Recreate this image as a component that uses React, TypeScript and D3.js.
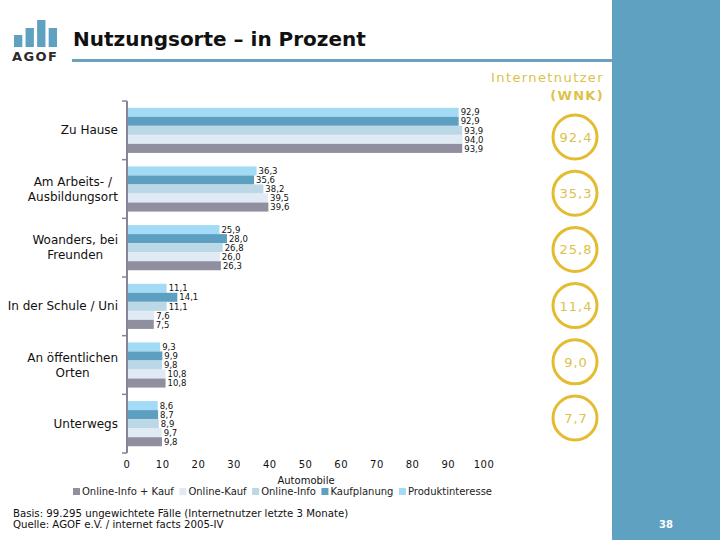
import React, { useEffect, useRef } from 'react';
import * as d3 from 'd3';

const categories = [
  'Zu Hause',
  'Am Arbeits- /\nAusbildungsort',
  'Woanders, bei\nFreunden',
  'In der Schule / Uni',
  'An öffentlichen\nOrten',
  'Unterwegs',
];

// bar order top -> bottom inside each category
const seriesNames = ['Produktinteresse', 'Kaufplanung', 'Online-Info', 'Online-Kauf', 'Online-Info + Kauf'];
const produktinteresse = [92.9, 36.3, 25.9, 11.1, 9.3, 8.6];
const kaufplanung = [92.9, 35.6, 28.0, 14.1, 9.9, 8.7];
const onlineInfo = [93.9, 38.2, 26.8, 11.1, 9.8, 8.9];
const onlineKauf = [94.0, 39.5, 26.0, 7.6, 10.8, 9.7];
const onlineInfoKauf = [93.9, 39.6, 26.3, 7.5, 10.8, 9.8];
const seriesValues = [produktinteresse, kaufplanung, onlineInfo, onlineKauf, onlineInfoKauf];
const seriesColors = ['#a3dbf6', '#5c9fc0', '#bcd7e5', '#dfeaf4', '#8f8fa0'];

// legend order (left -> right)
const legendOrder = ['Online-Info + Kauf', 'Online-Kauf', 'Online-Info', 'Kaufplanung', 'Produktinteresse'];

const internetnutzer = [92.4, 35.3, 25.8, 11.4, 9.0, 7.7];
const xTicks = [0, 10, 20, 30, 40, 50, 60, 70, 80, 90, 100];

const title = 'Nutzungsorte – in Prozent';
const axisTitle = 'Automobile';
const footer = [
  'Basis: 99.295 ungewichtete Fälle (Internetnutzer letzte 3 Monate)',
  'Quelle: AGOF e.V. / internet facts 2005-IV',
];
const logoBars = [12, 19, 27, 19];

const FONT = "'DejaVu Sans', Verdana, sans-serif";
const BLUE = '#5ea1c0';
const GOLD = '#e4bc32';
const GOLD_TEXT = '#dcc14a';

const de = d3.formatLocale({ decimal: ',', thousands: '.', grouping: [3], currency: ['', '€'] });
const fmt = de.format('.1f');

export default function App() {
  const ref = useRef<SVGSVGElement>(null);

  useEffect(() => {
    const svg = d3.select(ref.current);
    svg.selectAll('*').remove();

    // background
    svg.append('rect').attr('width', 720).attr('height', 540).attr('fill', '#fff');
    // right panel
    svg.append('rect').attr('x', 612).attr('y', 0).attr('width', 108).attr('height', 540).attr('fill', BLUE);
    // title underline
    svg.append('rect').attr('x', 72).attr('y', 59).attr('width', 540).attr('height', 3).attr('fill', '#6aa3bd');

    // logo
    const lx = d3.scaleBand<number>().domain(d3.range(logoBars.length)).range([14, 57]).paddingInner(0.28);
    const ly = d3.scaleLinear().domain([0, 27]).range([47, 20]);
    svg.append('g').selectAll('rect').data(logoBars).join('rect')
      .attr('x', (_, i) => lx(i)!)
      .attr('width', lx.bandwidth())
      .attr('y', d => ly(d))
      .attr('height', d => 47 - ly(d))
      .attr('fill', BLUE);
    svg.append('text').attr('x', 12).attr('y', 61).text('AGOF')
      .attr('font-family', FONT).attr('font-weight', 'bold').attr('font-size', 13)
      .attr('letter-spacing', 1.4).attr('fill', '#2b2b2b');

    // title
    svg.append('text').attr('x', 73).attr('y', 46).text(title)
      .attr('font-family', FONT).attr('font-weight', 'bold').attr('font-size', 20).attr('fill', '#111');

    // scales
    const x = d3.scaleLinear().domain([0, 100]).range([127, 484]);
    const y = d3.scaleBand<number>().domain(d3.range(categories.length)).range([101, 453])
      .paddingInner(0.23).paddingOuter(0.115);
    const yi = d3.scaleBand<number>().domain(d3.range(seriesNames.length)).range([0, y.bandwidth()]);
    const step = y.step();

    // bars
    const gBars = svg.append('g');
    seriesValues.forEach((vals, s) => {
      gBars.append('g').selectAll('rect').data(vals).join('rect')
        .attr('x', x(0))
        .attr('y', (_, i) => y(i)! + yi(s)!)
        .attr('width', d => x(d) - x(0))
        .attr('height', yi.bandwidth())
        .attr('fill', seriesColors[s]);
    });
    // value labels
    seriesValues.forEach((vals, s) => {
      gBars.append('g').selectAll('text').data(vals).join('text')
        .attr('x', d => x(d) + 2)
        .attr('y', (_, i) => y(i)! + yi(s)! + yi.bandwidth() / 2 + 3.2)
        .text(d => fmt(d))
        .attr('font-family', FONT).attr('font-size', 8.5).attr('fill', '#111');
    });

    // axis
    const axisTop = 101, axisBottom = 453;
    svg.append('line').attr('x1', 127).attr('x2', 127).attr('y1', axisTop).attr('y2', axisBottom)
      .attr('stroke', '#85859a').attr('stroke-width', 2);
    svg.append('g').selectAll('line').data(d3.range(categories.length + 1)).join('line')
      .attr('x1', 122).attr('x2', 127)
      .attr('y1', i => axisTop + i * step).attr('y2', i => axisTop + i * step)
      .attr('stroke', '#85859a').attr('stroke-width', 1.5);

    // category labels
    const gCat = svg.append('g');
    categories.forEach((c, i) => {
      const lines = c.split('\n');
      const cy = y(i)! + y.bandwidth() / 2;
      const t = gCat.append('text').attr('font-family', FONT).attr('font-size', 12).attr('fill', '#111');
      const lh = 15;
      lines.forEach((ln, k) => {
        t.append('tspan').attr('x', 0).attr('y', cy + (k - (lines.length - 1) / 2) * lh + 4).text(ln);
      });
      const w = (t.node() as SVGTextElement).getBBox().width;
      const right = 118;
      t.attr('text-anchor', 'middle');
      t.selectAll('tspan').attr('x', right - w / 2);
    });

    // x tick labels
    svg.append('g').selectAll('text').data(xTicks).join('text')
      .attr('x', d => x(d)).attr('y', 468).attr('text-anchor', 'middle')
      .text(d => String(d))
      .attr('font-family', FONT).attr('font-size', 10).attr('letter-spacing', 0.5).attr('fill', '#111');
    svg.append('text').attr('x', 306).attr('y', 484).attr('text-anchor', 'middle').text(axisTitle)
      .attr('font-family', FONT).attr('font-size', 10).attr('fill', '#111');

    // legend
    const lg = svg.append('g');
    let lxPos = 73;
    legendOrder.forEach(name => {
      const s = seriesNames.indexOf(name);
      lg.append('rect').attr('x', lxPos).attr('y', 488).attr('width', 7).attr('height', 7).attr('fill', seriesColors[s]);
      const t = lg.append('text').attr('x', lxPos + 9).attr('y', 495).text(name)
        .attr('font-family', FONT).attr('font-size', 10).attr('fill', '#222');
      const w = (t.node() as SVGTextElement).getComputedTextLength();
      lxPos += 9 + w + 5.5;
    });

    // footer
    footer.forEach((f, i) => {
      svg.append('text').attr('x', 13).attr('y', 517 + i * 11).text(f)
        .attr('font-family', FONT).attr('font-size', 10.2).attr('fill', '#111');
    });

    // right column: Internetnutzer circles
    svg.append('text').attr('x', 604).attr('y', 82).attr('text-anchor', 'end').text('Internetnutzer')
      .attr('font-family', FONT).attr('font-size', 13).attr('letter-spacing', 1.4).attr('fill', GOLD_TEXT);
    svg.append('text').attr('x', 604).attr('y', 100).attr('text-anchor', 'end').text('(WNK)')
      .attr('font-family', FONT).attr('font-size', 13).attr('font-weight', 'bold').attr('letter-spacing', 1.3).attr('fill', GOLD_TEXT);

    const yc = d3.scalePoint<number>().domain(d3.range(internetnutzer.length)).range([137, 418]);
    const gc = svg.append('g');
    gc.selectAll('circle').data(internetnutzer).join('circle')
      .attr('cx', 575).attr('cy', (_, i) => yc(i)!).attr('r', 22)
      .attr('fill', 'none').attr('stroke', GOLD).attr('stroke-width', 3);
    gc.selectAll('text').data(internetnutzer).join('text')
      .attr('x', 576).attr('y', (_, i) => yc(i)! + 5).attr('text-anchor', 'middle')
      .text(d => fmt(d))
      .attr('font-family', FONT).attr('font-size', 13).attr('letter-spacing', 1).attr('fill', GOLD_TEXT);

    // page number
    svg.append('text').attr('x', 666).attr('y', 528).attr('text-anchor', 'middle').text('38')
      .attr('font-family', FONT).attr('font-size', 10).attr('font-weight', 'bold').attr('fill', '#fff');
  }, []);

  return (
    <svg ref={ref} width={720} height={540} style={{ position: 'absolute', left: 0, top: 0, display: 'block' }} />
  );
}
